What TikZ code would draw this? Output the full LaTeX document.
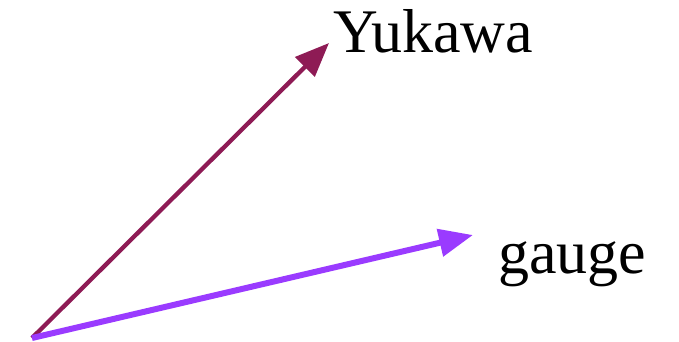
\documentclass[tikz,border=0pt]{standalone}
\usepackage{fontspec}
\setmainfont{Liberation Serif}
\usetikzlibrary{arrows.meta, positioning, calc}
\definecolor{yukcol}{HTML}{8E1B55}
\definecolor{gaugecol}{HTML}{9A3BFF}

\begin{document}
\begin{tikzpicture}[
		x=1pt, y=-1pt,
		font=\fontsize{62}{70}\selectfont,
		arrow/.style={-{Triangle[length=34pt, width=27pt]}},
		lbl/.style={inner sep=0pt, anchor=base west}
		]
		\useasboundingbox (0,0) rectangle (679,342);
		
		% 1. Origin and tips
		\coordinate (o) at (32,338);
		\coordinate (ytip) at (329,43);
		\coordinate (gtip) at (473,235);
		
		% 2. Labels
		\node[lbl] (yukawa) at (333,53) {Yukawa};
		\node[lbl] (gauge) at (498,273) {gauge};
		
		% Arrows
		\draw[arrow, yukcol, line width=4.3pt] (o) -- (ytip);
		\draw[arrow, gaugecol, line width=6pt] (o) -- (gtip);
	\end{tikzpicture}
\end{document}
